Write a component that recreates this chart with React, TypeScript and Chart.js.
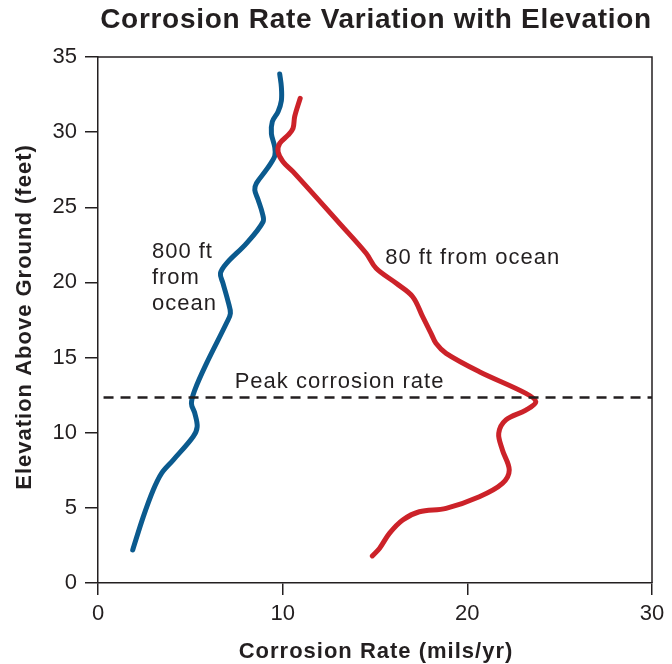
import React, { useEffect, useRef } from "react";
import { Chart, registerables } from "chart.js";

Chart.register(...registerables);

const blueX = [1.88, 2.45, 2.99, 3.44, 4.07, 5.15, 5.37, 5.24, 5.06, 5.24, 5.87, 6.96, 7.17, 7.05, 6.77, 6.63, 6.96, 8.04, 8.94, 8.9, 8.67, 8.49, 8.58, 9.12, 9.57, 9.57, 9.39, 9.44, 9.75, 9.93, 9.93, 9.84];
const blueY = [2.2, 4.4, 6.19, 7.3, 8.18, 9.73, 10.4, 11.3, 11.95, 12.84, 14.6, 17.3, 17.94, 18.7, 19.94, 20.6, 21.27, 22.6, 24.04, 24.6, 25.5, 26.15, 26.6, 27.5, 28.4, 29.0, 29.9, 30.7, 31.36, 32.1, 33.0, 33.87];
const redX = [14.85, 15.24, 15.78, 16.5, 17.4, 18.85, 20.65, 21.9, 22.27, 21.9, 21.7, 22.09, 23.17, 23.71, 23.17, 20.65, 18.85, 18.3, 18.04, 17.58, 17.04, 16.15, 15.06, 14.52, 13.08, 10.56, 10.02, 9.75, 9.84, 10.29, 10.56, 10.65, 10.95];
const redY = [1.8, 2.3, 3.3, 4.19, 4.74, 4.97, 5.74, 6.63, 7.52, 8.85, 9.96, 10.85, 11.5, 12.06, 12.62, 14.06, 15.28, 15.95, 16.6, 17.72, 19.05, 19.94, 20.94, 21.94, 23.93, 27.37, 28.03, 28.7, 29.25, 29.8, 30.25, 31.03, 32.25];
const peakX = [0.3, 30];
const peakY = [12.35, 12.35];

const xTicks = [0, 10, 20, 30];
const yTicks = [0, 5, 10, 15, 20, 25, 30, 35];

const titleText = "Corrosion Rate Variation with Elevation";
const xTitle = "Corrosion Rate (mils/yr)";
const yTitle = "Elevation Above Ground (feet)";
const peakLabel = "Peak corrosion rate";
const nearLabel = "80 ft from ocean";
const farLabel = ["800 ft", "from", "ocean"];

const INK = "#231f20";
const BLUE = "#0b5a8e";
const RED = "#cc2229";
const FONT = "'Liberation Sans', Arial, sans-serif";

const zip = (xs: number[], ys: number[]) => xs.map((x, i) => ({ x, y: ys[i] }));

const textPlugin = {
  id: "texts",
  afterDraw(chart: any) {
    const { ctx, chartArea, scales } = chart;
    const xs = scales.x;
    const ys = scales.y;
    ctx.save();
    // frame top/right
    ctx.strokeStyle = INK;
    ctx.lineWidth = 1.5;
    ctx.beginPath();
    ctx.moveTo(chartArea.left, chartArea.top);
    ctx.lineTo(chartArea.right, chartArea.top);
    ctx.lineTo(chartArea.right, chartArea.bottom);
    ctx.stroke();

    const cx = (chartArea.left + chartArea.right) / 2;
    const cy = (chartArea.top + chartArea.bottom) / 2;
    ctx.fillStyle = INK;
    ctx.textBaseline = "middle";

    // title
    ctx.textAlign = "center";
    ctx.font = `bold 28px ${FONT}`;
    (ctx as any).letterSpacing = "0.7px";
    ctx.fillText(titleText, cx + 1, 20);

    // axis titles
    ctx.font = `bold 22px ${FONT}`;
    (ctx as any).letterSpacing = "1px";
    ctx.fillText(xTitle, cx + 1, 652);
    ctx.save();
    ctx.translate(25, cy - 3);
    ctx.rotate(-Math.PI / 2);
    ctx.fillText(yTitle, 0, 0);
    ctx.restore();

    // annotations
    ctx.font = `22px ${FONT}`;
    (ctx as any).letterSpacing = "1px";
    ctx.textAlign = "left";
    ctx.fillText(peakLabel, xs.getPixelForValue(7.4), ys.getPixelForValue(13.4));
    ctx.fillText(nearLabel, xs.getPixelForValue(15.55), ys.getPixelForValue(21.6));
    farLabel.forEach((t, i) => {
      ctx.fillText(t, xs.getPixelForValue(2.92), ys.getPixelForValue(22.0 - i * 1.7));
    });
    ctx.restore();
  },
};

export default function App() {
  const ref = useRef<HTMLCanvasElement>(null);
  useEffect(() => {
    if (!ref.current) return;
    const chart = new Chart(ref.current, {
      type: "scatter",
      data: {
        datasets: [
          {
            data: zip(peakX, peakY),
            showLine: true,
            borderColor: INK,
            borderWidth: 2.5,
            borderDash: [10, 7],
            pointRadius: 0,
          },
          {
            data: zip(redX, redY),
            showLine: true,
            borderColor: RED,
            borderWidth: 5,
            tension: 0.35,
            pointRadius: 0,
            borderCapStyle: "round",
            borderJoinStyle: "round",
          },
          {
            data: zip(blueX, blueY),
            showLine: true,
            borderColor: BLUE,
            borderWidth: 5,
            tension: 0.35,
            pointRadius: 0,
            borderCapStyle: "round",
            borderJoinStyle: "round",
          },
        ],
      },
      options: {
        animation: false,
        responsive: true,
        maintainAspectRatio: false,
        layout: { padding: { top: 57, right: 20, left: 0, bottom: 0 } },
        plugins: { legend: { display: false }, tooltip: { enabled: false }, title: { display: false } },
        scales: {
          x: {
            type: "linear",
            min: 0,
            max: 30,
            afterFit: (s: any) => { s.height = 81; },
            afterBuildTicks: (s: any) => { s.ticks = xTicks.map((v) => ({ value: v })); },
            grid: { drawOnChartArea: false, tickLength: 12, color: INK, lineWidth: 1.5 },
            border: { color: INK, width: 1.5 },
            ticks: { color: INK, font: { family: FONT, size: 22 }, padding: 6 },
          },
          y: {
            type: "linear",
            min: 0,
            max: 35,
            afterFit: (s: any) => { s.width = 98; },
            afterBuildTicks: (s: any) => { s.ticks = yTicks.map((v) => ({ value: v })); },
            grid: { drawOnChartArea: false, tickLength: 13, color: INK, lineWidth: 1.5 },
            border: { color: INK, width: 1.5 },
            ticks: { color: INK, font: { family: FONT, size: 22 }, padding: 8 },
          },
        },
      },
      plugins: [textPlugin],
    } as any);
    return () => chart.destroy();
  }, []);
  return (
    <div style={{ position: "absolute", left: 0, top: 0, width: 672, height: 664 }}>
      <canvas ref={ref} />
    </div>
  );
}
